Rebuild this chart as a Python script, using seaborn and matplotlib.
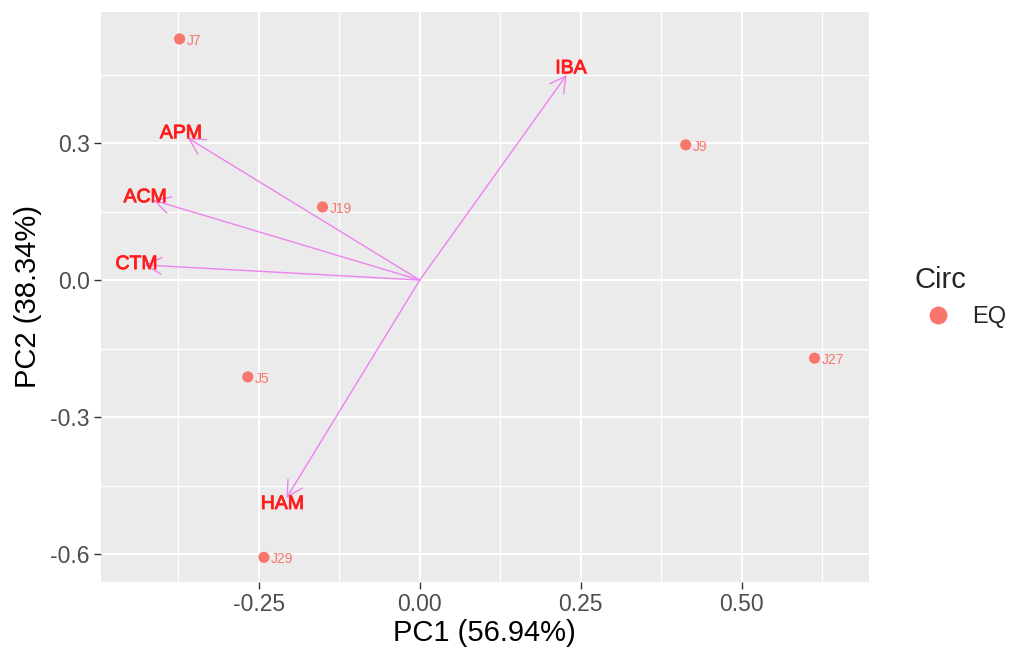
import pandas as pd
import seaborn as sns
import matplotlib.pyplot as plt
import matplotlib.patheffects as pe
from matplotlib.patches import FancyArrowPatch
from matplotlib.ticker import MultipleLocator, FormatStrFormatter

# sample scores (PC1, PC2)
samples = ["J7", "J9", "J19", "J27", "J5", "J29"]
pc1 = [-0.373, 0.413, -0.151, 0.613, -0.267, -0.242]
pc2 = [0.528, 0.296, 0.160, -0.171, -0.212, -0.607]
circ = ["EQ"] * len(samples)

# variable loadings (arrow tips)
variables = ["IBA", "APM", "ACM", "CTM", "HAM"]
load1 = [0.228, -0.360, -0.414, -0.427, -0.207]
load2 = [0.449, 0.311, 0.175, 0.033, -0.477]

df = pd.DataFrame({"PC1": pc1, "PC2": pc2, "Circ": circ, "label": samples})

sns.set_theme(style="darkgrid", rc={
    "axes.facecolor": "#EBEBEB",
    "grid.color": "white",
    "axes.edgecolor": "#EBEBEB",
})
plt.rcParams["font.family"] = ["Liberation Sans", "DejaVu Sans"]

fig = plt.figure(figsize=(10.1, 6.56), dpi=100)
ax = fig.add_axes([0.1, 0.1128, 0.76, 0.869])

# arrows for loadings
for name, x, y in zip(variables, load1, load2):
    arr = FancyArrowPatch((0, 0), (x, y), arrowstyle="->,head_length=1.0,head_width=0.55",
                          mutation_scale=11, color="#EE82EE", lw=1.0, shrinkA=0, shrinkB=0,
                          zorder=3)
    ax.add_patch(arr)
    ax.text(x * 1.03, y * 1.03, name, color="#FF1A1A", fontsize=14,
            ha="center", va="center", zorder=4,
            path_effects=[pe.withStroke(linewidth=0.7, foreground="#FF3030")])

sns.scatterplot(data=df, x="PC1", y="PC2", hue="Circ", palette=["#F8766D"],
                s=65, edgecolor="none", ax=ax, zorder=5)

for lab, x, y in zip(samples, pc1, pc2):
    ax.annotate(lab, (x, y), xytext=(5, -1.5), textcoords="offset points",
                color="#F8766D", fontsize=10, ha="left", va="center", zorder=5)

ax.set_xlim(-0.495, 0.697)
ax.set_ylim(-0.661, 0.587)
ax.xaxis.set_major_locator(MultipleLocator(0.25))
ax.xaxis.set_minor_locator(MultipleLocator(0.125))
ax.yaxis.set_major_locator(MultipleLocator(0.3))
ax.yaxis.set_minor_locator(MultipleLocator(0.15))
ax.xaxis.set_major_formatter(FormatStrFormatter("%.2f"))
ax.yaxis.set_major_formatter(FormatStrFormatter("%.1f"))
ax.grid(which="major", color="white", lw=1.5)
ax.grid(which="minor", color="white", lw=0.9)
ax.tick_params(which="major", length=5, width=1, color="#333333",
               labelsize=16.5, labelcolor="#4D4D4D", bottom=True, left=True, pad=3)
ax.tick_params(which="minor", length=0)
for s in ax.spines.values():
    s.set_visible(False)

ax.set_xlabel("PC1 (56.94%)", fontsize=21, color="black", labelpad=2)
ax.set_ylabel("PC2 (38.34%)", fontsize=21, color="black", labelpad=6)

sns.move_legend(ax, "center left", bbox_to_anchor=(1.06, 0.5), frameon=False,
                title="Circ", fontsize=17, title_fontsize=21, markerscale=1.6,
                borderaxespad=0, borderpad=0, handletextpad=0.45, labelspacing=0.5)
leg = ax.get_legend()
leg._legend_box.align = "left"

fig.savefig("out.png", dpi=100)
